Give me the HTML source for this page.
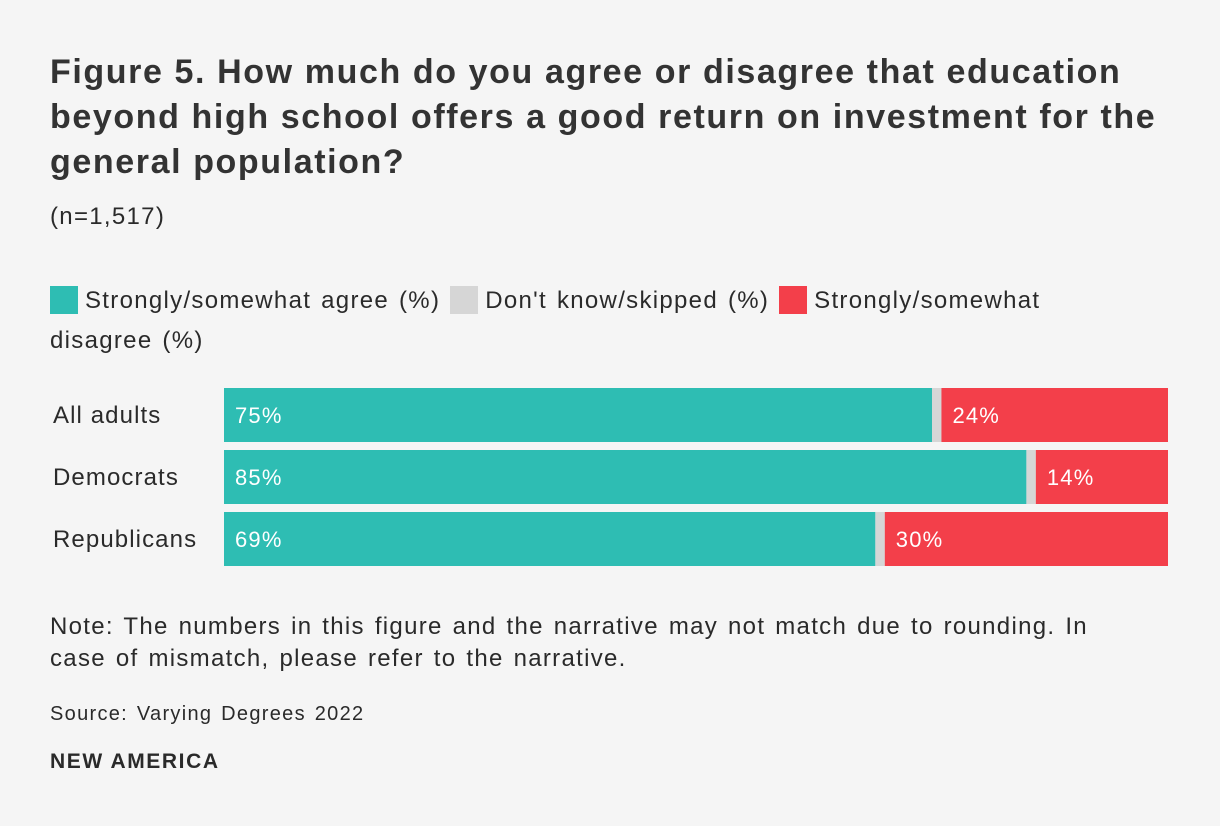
<!DOCTYPE html>
<html><head><meta charset="utf-8"><style>
body{margin:0;background:#f5f5f5;width:1220px;height:826px;overflow:hidden;font-family:"Liberation Sans",sans-serif;color:#2a2a2a;position:relative}
.t{position:absolute;left:50px;top:50px;font-size:34px;font-weight:bold;line-height:45px;color:#333;letter-spacing:1.6px;white-space:nowrap}
.b{letter-spacing:1.3px;word-spacing:2px}
.n{position:absolute;left:50px;top:203px;font-size:24px}
.leg{position:absolute;left:50px;top:281px;font-size:24px;line-height:40px;width:1080px}
.sw{display:inline-block;width:28px;height:28px;vertical-align:-6px;margin-right:7px}
.note{position:absolute;left:50px;top:611px;font-size:24px;line-height:32px;width:1090px}
.src{position:absolute;left:50px;top:703px;font-size:20px}
.brand{position:absolute;left:50px;top:750px;font-size:21px;font-weight:bold;letter-spacing:1.6px}
svg{position:absolute;left:0;top:0}
</style></head><body>
<div class="t">Figure 5. How much do you agree or disagree that education<br>beyond high school offers a good return on investment for the<br>general population?</div>
<div class="n b">(n=1,517)</div>
<div class="leg b"><span><span class="sw" style="background:#2ebdb3"></span>Strongly/somewhat agree (%)</span> <span><span class="sw" style="background:#d6d6d6"></span>Don't know/skipped (%)</span> <span><span class="sw" style="background:#f33f4a"></span>Strongly/somewhat disagree (%)</span></div>
<svg id="chart" width="1220" height="826"></svg>
<div class="note b">Note: The numbers in this figure and the narrative may not match due to rounding. In case of mismatch, please refer to the narrative.</div>
<div class="src b">Source: Varying Degrees 2022</div>
<div class="brand">NEW AMERICA</div>
<script>
const categories=["All adults","Democrats","Republicans"];
const agree=[75,85,69];
const dontKnow=[1,1,1];
const disagree=[24,14,30];
const colors=["#2ebdb3","#d6d6d6","#f33f4a"];
const svg=document.getElementById('chart');
const NS="http://www.w3.org/2000/svg";
const x0=224,x1=1168,y0=388,rowH=62,barH=54;
const xs=v=>x0+v/100*(x1-x0);
categories.forEach((c,i)=>{
  const y=y0+i*rowH;
  const lab=document.createElementNS(NS,'text');
  
  
  lab.setAttribute('x',53);lab.setAttribute('y',y+barH/2+8);
  lab.setAttribute('font-size','24');lab.setAttribute('fill','#2a2a2a');
  lab.setAttribute('letter-spacing','1.1');
  lab.textContent=c;svg.appendChild(lab);
  const vals=[agree[i],dontKnow[i],disagree[i]];
  let cum=0;
  vals.forEach((v,k)=>{
    const r=document.createElementNS(NS,'rect');
    
    
    const a=xs(cum),b=xs(k===2?100:cum+v);
    r.setAttribute('x',a);r.setAttribute('y',y);
    r.setAttribute('width',b-a);r.setAttribute('height',barH);
    r.setAttribute('fill',colors[k]);svg.appendChild(r);
    if(k!==1){
      const t=document.createElementNS(NS,'text');
      
      
      t.setAttribute('x',a+11);t.setAttribute('y',y+barH/2+8);
      t.setAttribute('font-size','22');t.setAttribute('fill','#fff');
      t.setAttribute('letter-spacing','1.2');
      t.textContent=v+'%';svg.appendChild(t);
    }
    cum+=v;
  });
});
</script>
</body></html>
